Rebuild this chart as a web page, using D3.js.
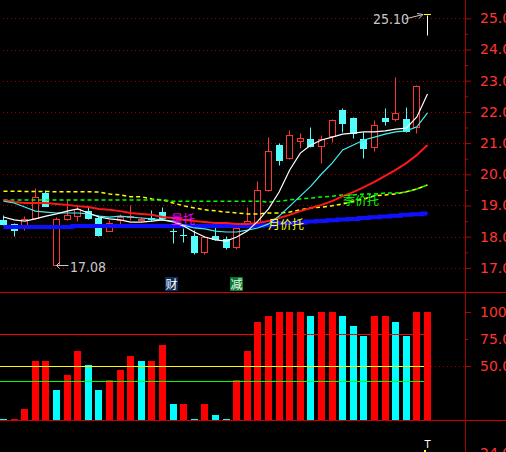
<!DOCTYPE html>
<html><head><meta charset="utf-8">
<script src="https://cdn.jsdelivr.net/npm/d3@7/dist/d3.min.js"></script>
<style>html,body{margin:0;padding:0;background:#000;overflow:hidden}</style>
</head><body>
<svg id="c" width="506" height="452"></svg>
<script>
// ---- data ----
const opens  = [18.54,18.41,18.35,18.60,19.40,17.10,18.57,18.67,18.82,18.60,18.19,18.54,18.64,18.52,18.60,18.79,18.19,18.06,18.02,17.51,18.02,17.93,17.67,18.38,18.47,19.50,20.94,20.52,21.07,21.13,20.91,21.23,22.06,21.80,21.13,20.88,21.80,21.77,21.77,21.52];
const highs  = [18.70,18.45,18.67,19.56,19.50,18.64,19.18,19.02,18.98,18.70,18.54,18.73,19.02,18.62,18.86,18.95,18.27,18.27,18.21,18.01,18.43,18.02,18.30,18.95,19.78,21.20,21.00,21.42,21.32,21.51,21.26,21.78,22.12,21.84,21.35,21.74,22.12,23.12,22.16,22.86];
const lows   = [18.38,18.03,18.22,18.58,18.97,17.08,18.55,18.50,18.58,18.03,18.17,18.41,18.54,18.50,18.50,18.58,17.80,17.83,17.45,17.45,17.90,17.61,17.61,18.36,18.45,19.48,20.30,20.50,20.84,20.88,20.36,21.03,21.35,21.16,20.52,20.75,21.58,21.71,21.36,21.32];
const closes = [18.41,18.22,18.57,19.28,18.98,18.57,18.70,18.89,18.60,18.05,18.44,18.64,18.67,18.58,18.57,18.60,18.17,18.04,17.51,17.99,17.93,17.67,18.27,18.50,19.50,20.75,20.46,21.26,21.16,20.91,21.13,21.74,21.64,21.32,20.84,21.58,21.71,21.97,21.39,22.83];
const lastMarkHigh = 25.10, lastMarkLow = 24.47, lastMarkIndex = 40;
const maxLabel = "25.10", minLabel = "17.08", minIndex = 5;

const ma5  = [18.63,18.54,18.50,18.57,18.66,18.73,18.82,18.89,18.76,18.63,18.57,18.54,18.47,18.47,18.50,18.54,18.47,18.34,18.15,17.99,17.90,17.86,17.99,18.18,18.50,18.89,19.43,20.14,20.68,20.94,21.10,21.19,21.29,21.32,21.36,21.36,21.39,21.45,21.48,21.84,22.57];
const ma10 = [19.14,19.08,18.95,18.82,18.79,18.76,18.76,18.76,18.73,18.66,18.63,18.66,18.63,18.60,18.57,18.54,18.50,18.37,18.28,18.25,18.18,18.15,18.15,18.21,18.28,18.41,18.66,18.98,19.30,19.62,20.01,20.36,20.78,20.94,21.10,21.19,21.29,21.36,21.39,21.52,21.97];
const ma20 = [19.18,19.11,19.08,19.08,19.08,19.05,19.02,18.98,18.95,18.89,18.86,18.82,18.76,18.73,18.70,18.63,18.60,18.54,18.50,18.47,18.44,18.44,18.41,18.41,18.44,18.50,18.60,18.70,18.82,18.92,19.02,19.14,19.30,19.43,19.59,19.76,19.95,20.14,20.36,20.62,20.94];
const yellowMA = [19.46,19.46,19.45,19.45,19.45,19.44,19.44,19.44,19.44,19.43,19.37,19.34,19.28,19.28,19.21,19.18,19.08,18.99,18.92,18.86,18.83,18.79,18.76,18.73,18.73,18.76,18.76,18.79,18.86,18.92,18.95,18.99,19.05,19.14,19.21,19.31,19.34,19.37,19.44,19.53,19.66];
const greenMA  = [19.18,19.18,19.18,19.18,19.18,19.18,19.18,19.18,19.18,19.18,19.18,19.18,19.18,19.18,19.18,19.18,19.14,19.14,19.14,19.14,19.14,19.14,19.14,19.14,19.14,19.11,19.14,19.18,19.21,19.24,19.27,19.30,19.34,19.34,19.37,19.37,19.40,19.40,19.43,19.53,19.66];
const blueMA   = [18.31,18.31,18.31,18.31,18.31,18.31,18.31,18.34,18.34,18.34,18.34,18.34,18.34,18.34,18.34,18.34,18.34,18.34,18.34,18.34,18.34,18.34,18.34,18.34,18.35,18.37,18.44,18.44,18.45,18.49,18.50,18.53,18.55,18.57,18.60,18.62,18.65,18.67,18.70,18.72,18.74];

const volValues = [1,1,10,55,55,28,42,64,51,28,37,46,59,55,55,69,15,15,1,15,5,1,37,64,91,96,100,100,100,96,100,100,96,87,78,96,96,91,78,100,100];
const volDir = ["d","u","u","u","u","d","u","u","d","d","u","u","u","d","u","u","d","u","d","u","d","d","u","u","u","u","u","u","u","d","u","u","d","d","d","u","u","d","d","u","u"];
const volLevels = [80, 50, 36];

const priceTicks = [17,18,19,20,21,22,23,24,25];
const priceMinor = [17.5,18.5,19.5,20.5,21.5,22.5,23.5,24.5];
const volTicks = [100,75,50];

const W = 506, H = 452, AX = 465;
const RED = "#ff3434", CYAN = "#54fcfc";

const svg = d3.select('#c');
svg.append('rect').attr('width', W).attr('height', H).attr('fill', '#000');

const x = d3.scaleLinear().domain([0, 40]).range([3.5, 427.5]);
const y = d3.scaleLinear().domain([17, 25]).range([267.9, 18.3]);
const yv = d3.scaleLinear().domain([0, 100]).range([420, 312]);
const left = i => Math.round(x(i) - 3.5);
const py = v => Math.round(y(v)) + 0.5;

// grid
svg.append('g').selectAll('line').data(priceTicks).join('line')
  .attr('x1', 3).attr('x2', AX).attr('y1', d => py(d)).attr('y2', d => py(d))
  .attr('stroke', '#a00000').attr('stroke-dasharray', '1,3');
svg.append('line').attr('x1', 3).attr('x2', AX)
  .attr('y1', Math.round(yv(50)) + 0.5).attr('y2', Math.round(yv(50)) + 0.5)
  .attr('stroke', '#a00000').attr('stroke-dasharray', '1,3');

// separators & axis line
[292.5, 420.5].forEach(v => svg.append('line').attr('x1', 0).attr('x2', W).attr('y1', v).attr('y2', v).attr('stroke', '#d00000'));
svg.append('line').attr('x1', AX + 0.5).attr('x2', AX + 0.5).attr('y1', 0).attr('y2', H).attr('stroke', '#a80000');

// candles
const cg = svg.append('g');
opens.forEach((o, i) => {
  const c = closes[i], up = c >= o;
  const l = left(i), cx = l + 3.5;
  const top = py(Math.max(o, c)), bot = py(Math.min(o, c));
  if (up) {
    cg.append('line').attr('x1', cx).attr('x2', cx).attr('y1', py(highs[i])).attr('y2', top).attr('stroke', RED);
    cg.append('line').attr('x1', cx).attr('x2', cx).attr('y1', bot).attr('y2', py(lows[i])).attr('stroke', RED);
    cg.append('rect').attr('x', l + 0.5).attr('y', top).attr('width', 6).attr('height', Math.max(bot - top, 1))
      .attr('fill', '#000').attr('stroke', RED);
  } else {
    cg.append('line').attr('x1', cx).attr('x2', cx).attr('y1', py(highs[i])).attr('y2', py(lows[i])).attr('stroke', CYAN);
    cg.append('rect').attr('x', l).attr('y', top - 0.5).attr('width', 7).attr('height', Math.max(bot - top + 1, 1))
      .attr('fill', CYAN);
  }
});
// last marker
{
  const l = left(lastMarkIndex), cx = l + 3.5;
  cg.append('line').attr('x1', cx).attr('x2', cx).attr('y1', py(lastMarkHigh)).attr('y2', py(lastMarkLow)).attr('stroke', '#fff');
  cg.append('line').attr('x1', l).attr('x2', l + 7).attr('y1', py(lastMarkHigh) - 1).attr('y2', py(lastMarkHigh) - 1).attr('stroke', '#ffff00');
}

// MA lines
const line = d3.line().x((d, i) => x(i)).y(d => y(d));
const lg = svg.append('g').attr('fill', 'none');
lg.append('path').attr('d', line(yellowMA)).attr('stroke', '#ffff00').attr('stroke-width', 1.5).attr('stroke-dasharray', '4,3');
lg.append('path').attr('d', line(greenMA)).attr('stroke', '#00ff00').attr('stroke-width', 1.5).attr('stroke-dasharray', '4,3');
lg.append('path').attr('d', line.curve(d3.curveStep)(blueMA)).attr('stroke', '#1010ff').attr('stroke-width', 4);
line.curve(d3.curveLinear);
lg.append('path').attr('d', line(ma20)).attr('stroke', '#ff1818').attr('stroke-width', 2);
lg.append('path').attr('d', line(ma10)).attr('stroke', '#40f0f0').attr('stroke-width', 1.2);
lg.append('path').attr('d', line(ma5)).attr('stroke', '#ffffff').attr('stroke-width', 1.2);

// labels in price panel
const cjk = "'Noto Sans CJK SC', sans-serif";
svg.append('text').attr('x', 171).attr('y', 224).text('量托').attr('fill', '#ff00ff').attr('font-family', cjk).attr('font-size', 12);
svg.append('text').attr('x', 268).attr('y', 229).text('月价托').attr('fill', '#ffff00').attr('font-family', cjk).attr('font-size', 12);
svg.append('text').attr('x', 343).attr('y', 205).text('季价托').attr('fill', '#00ff00').attr('font-family', cjk).attr('font-size', 12);

const narrow = "'Liberation Sans Narrow', 'DejaVu Sans Condensed', sans-serif";
// max label
{
  const ty = py(lastMarkHigh);
  svg.append('text').attr('x', 373).attr('y', 24).text(maxLabel).attr('fill', '#c8c8c8').attr('font-family', narrow).attr('font-size', 14);
  svg.append('line').attr('x1', 405).attr('y1', 19).attr('x2', 423).attr('y2', ty - 1).attr('stroke', '#c8c8c8');
  svg.append('path').attr('d', `M417,${ty - 2} L423,${ty - 1} L419,${ty + 3}`).attr('fill', 'none').attr('stroke', '#c8c8c8');
}
// min label
{
  const ly = py(lows[minIndex]);
  const lx = left(minIndex) + 3.5;
  svg.append('line').attr('x1', lx).attr('x2', lx + 12).attr('y1', ly).attr('y2', ly).attr('stroke', '#c8c8c8');
  svg.append('path').attr('d', `M${lx + 3},${ly - 3} L${lx},${ly} L${lx + 3},${ly + 3}`).attr('fill', 'none').attr('stroke', '#c8c8c8');
  svg.append('text').attr('x', 70).attr('y', 272).text(minLabel).attr('fill', '#c8c8c8').attr('font-family', narrow).attr('font-size', 14);
}

// event boxes
svg.append('rect').attr('x', 165).attr('y', 277).attr('width', 13).attr('height', 14).attr('fill', '#0c2c5c');
svg.append('text').attr('x', 171.5).attr('y', 288.5).attr('text-anchor', 'middle').text('财').attr('fill', '#ffffff').attr('font-family', cjk).attr('font-size', 12);
svg.append('rect').attr('x', 230).attr('y', 277).attr('width', 13).attr('height', 14).attr('fill', '#087830');
svg.append('text').attr('x', 236.5).attr('y', 288.5).attr('text-anchor', 'middle').text('减').attr('fill', '#e8ffe8').attr('font-family', cjk).attr('font-size', 12);

// volume-type bars
svg.append('g').selectAll('rect').data(volValues).join('rect')
  .attr('x', (d, i) => left(i)).attr('width', 7)
  .attr('y', d => Math.min(Math.round(yv(d)), 419))
  .attr('height', d => 420 - Math.min(Math.round(yv(d)), 419))
  .attr('fill', (d, i) => volDir[i] === 'u' ? '#ff0000' : '#00ffff');

const levelColors = ['#ff0000', '#ffff00', '#00ff00'];
volLevels.forEach((v, k) => {
  const yy = Math.round(yv(v)) + 0.5;
  svg.append('line').attr('x1', 0).attr('x2', x(40) - 3.5).attr('y1', yy).attr('y2', yy).attr('stroke', levelColors[k]);
});

// axes
const axFont = "'DejaVu Sans', sans-serif";
function styleAxis(g) {
  g.select('.domain').remove();
  g.selectAll('line').attr('stroke', '#c00000');
  g.selectAll('text').attr('fill', RED).attr('font-family', axFont).attr('font-size', 14);
}
svg.append('g').attr('transform', `translate(${AX},0)`)
  .call(d3.axisRight(y).tickValues(priceMinor).tickSize(3).tickFormat(''))
  .call(styleAxis);
svg.append('g').attr('transform', `translate(${AX},0)`)
  .call(d3.axisRight(y).tickValues(priceTicks).tickSize(6).tickPadding(9).tickFormat(d3.format('.2f')))
  .call(styleAxis);
svg.append('g').attr('transform', `translate(${AX},0)`)
  .call(d3.axisRight(yv).tickValues(volTicks).tickSize(6).tickPadding(9).tickFormat(d3.format('.2f')))
  .call(g => g.selectAll('.tick').filter(d => d === 75).select('line').attr('x2', 3))
  .call(styleAxis);

// third panel remnants
svg.append('text').attr('x', 480).attr('y', 458).text('24.00').attr('fill', RED).attr('font-family', axFont).attr('font-size', 14);
svg.append('text').attr('x', x(40)).attr('y', 448).attr('text-anchor', 'middle').text('T').attr('fill', '#ffffff').attr('font-family', axFont).attr('font-size', 10);
svg.append('rect').attr('x', left(40)).attr('y', 450).attr('width', 2).attr('height', 2).attr('fill', '#ffff00');
</script>
</body></html>
